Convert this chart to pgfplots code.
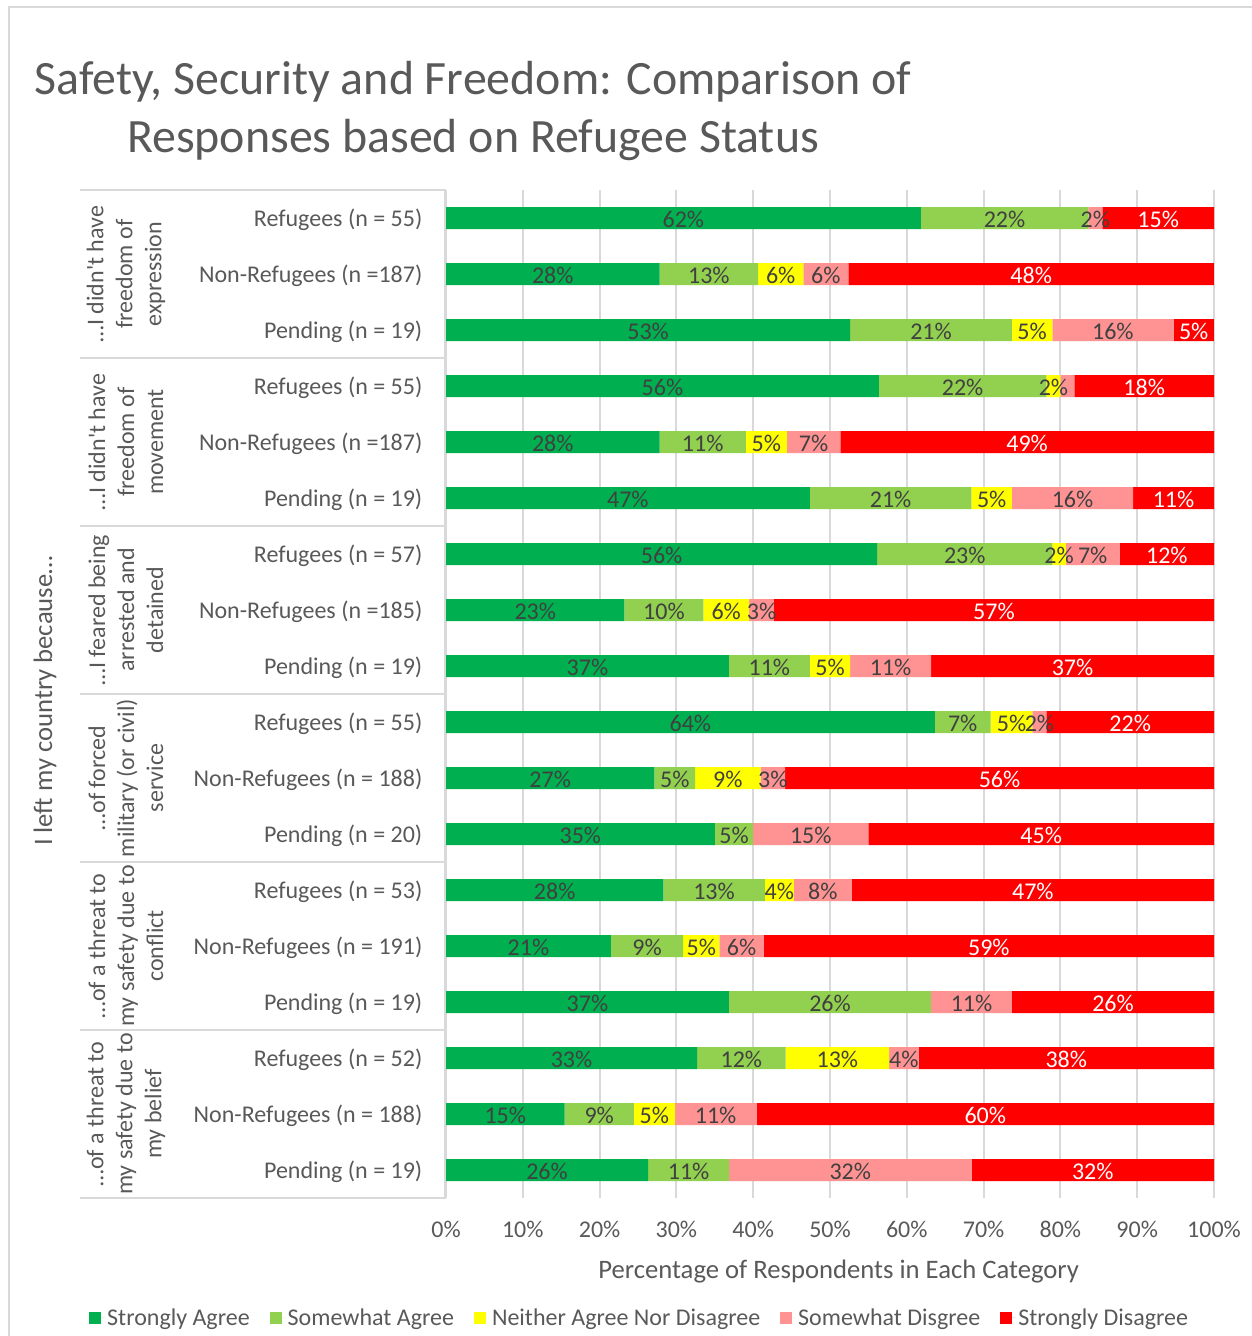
\documentclass[border=0pt]{standalone}
\usepackage{pgfplots}
\pgfplotsset{compat=1.18}
\usepackage{pgfplotstable}
\usepackage{fontspec}
\setmainfont{Carlito}[Ligatures=TeXOff]
\definecolor{cSA}{HTML}{00B050}
\definecolor{cWA}{HTML}{92D050}
\definecolor{cNE}{HTML}{FFFF00}
\definecolor{cSD}{HTML}{FF9393}
\definecolor{cSDD}{HTML}{FF0000}
\definecolor{txt}{HTML}{595959}
\definecolor{lbl}{HTML}{404040}
\definecolor{gridc}{HTML}{D9D9D9}

\pgfplotstableread{
row sa    wa    ne    sd    sdd   lsa lwa lne lsd lsdd
1   61.82 21.82 0     1.82  14.55 62  22  0   2   15
2   27.81 12.83 5.88  5.88  47.59 28  13  6   6   48
3   52.63 21.05 5.26  15.79 5.26  53  21  5   16  5
4   56.36 21.82 1.82  1.82  18.18 56  22  2   0   18
5   27.81 11.23 5.35  6.95  48.66 28  11  5   7   49
6   47.37 21.05 5.26  15.79 10.53 47  21  5   16  11
7   56.14 22.81 1.75  7.02  12.28 56  23  2   7   12
8   23.24 10.27 5.95  3.24  57.30 23  10  6   3   57
9   36.84 10.53 5.26  10.53 36.84 37  11  5   11  37
10  63.64 7.27  5.45  1.82  21.82 64  7   5   2   22
11  27.13 5.32  8.51  3.19  55.85 27  5   9   3   56
12  35.00 5.00  0     15.00 45.00 35  5   0   15  45
13  28.30 13.21 3.77  7.55  47.17 28  13  4   8   47
14  21.47 9.42  4.71  5.76  58.64 21  9   5   6   59
15  36.84 26.32 0     10.53 26.32 37  26  0   11  26
16  32.69 11.54 13.46 3.85  38.46 33  12  13  4   38
17  15.43 9.04  5.32  10.64 59.57 15  9   5   11  60
18  26.32 10.53 0     31.58 31.58 26  11  0   32  32
}\data

\begin{document}
\begin{tikzpicture}[x=0.75pt,y=-0.75pt]
\useasboundingbox (0,0) rectangle (1252,1336);
\fill[white] (0,0) rectangle (1252,1336);
\draw[gridc,line width=1.5pt] (9,1336) -- (9,7) -- (1252,7);
% group separators
\foreach \yy in {190,358,526,694,862,1030,1198}
  \draw[gridc,line width=1.5pt] (80,\yy) -- (446,\yy);
\draw[gridc,line width=1.5pt] (445,190) -- (445,1198);
\coordinate (A) at (446,1198);
\begin{axis}[
  at={(A)}, anchor=south west,
  width=576pt, height=756pt, scale only axis,
  xbar stacked, bar width=16.5pt,
  xmin=0, xmax=100, ymin=0.5, ymax=18.5, y dir=reverse,
  ytick={1,...,18},
  yticklabels={{Refugees (n = 55)},{Non-Refugees (n =187)},{Pending (n = 19)},
    {Refugees (n = 55)},{Non-Refugees (n =187)},{Pending (n = 19)},
    {Refugees (n = 57)},{Non-Refugees (n =185)},{Pending (n = 19)},
    {Refugees (n = 55)},{Non-Refugees (n = 188)},{Pending (n = 20)},
    {Refugees (n = 53)},{Non-Refugees (n = 191)},{Pending (n = 19)},
    {Refugees (n = 52)},{Non-Refugees (n = 188)},{Pending (n = 19)}},
  xtick={0,10,...,100},
  xticklabel={\pgfmathprintnumber{\tick}\%},
  /pgf/number format/assume math mode=true,
  xmajorgrids, ymajorgrids=false,
  major grid style={draw=gridc, line width=1.5pt},
  axis line style={draw=none},
  major tick length=0pt,
  tick label style={font=\fontsize{18}{21.6}\selectfont, text=txt},
  yticklabel style={xshift=-14.25pt, yshift=-1.5pt},
  xticklabel style={yshift=-13.5pt},
  xlabel={Percentage of Respondents in Each Category},
  xlabel style={font=\fontsize{20}{24}\selectfont, text=txt, yshift=-10pt, xshift=6.5pt},
  clip=false,
  point meta=explicit,
  nodes near coords={\pgfmathfloatifflags{\pgfplotspointmeta}{0}{}{\pgfmathprintnumber[fixed,precision=0]{\pgfplotspointmeta}\%}},
  nodes near coords align=center,
  every node near coord/.append style={font=\fontsize{18}{21.6}\selectfont, text=lbl, yshift=-0.75pt},
  legend columns=5,
  legend style={at={(0.2526,-0.119)}, anchor=center, draw=none, fill=none,
    font=\fontsize{18}{21.6}\selectfont, text=txt,
    /tikz/every even column/.append style={column sep=13pt}},
  legend image code/.code={\fill[#1] (0pt,-4.5pt) rectangle (9pt,4.5pt); \path (0pt,0pt) -- (11.5pt,0pt);},
]
\addplot[fill=cSA, draw=none] table[x=sa, y=row, meta=lsa] {\data};
\addplot[fill=cWA, draw=none] table[x=wa, y=row, meta=lwa] {\data};
\addplot[fill=cNE, draw=none] table[x=ne, y=row, meta=lne] {\data};
\addplot[fill=cSD, draw=none] table[x=sd, y=row, meta=lsd] {\data};
\addplot[fill=cSDD, draw=none, every node near coord/.append style={text=white}] table[x=sdd, y=row, meta=lsdd] {\data};
\legend{Strongly Agree, Somewhat Agree, Neither Agree Nor Disagree, Somewhat Disgree, Strongly Disagree}
\end{axis}
% group labels
\begin{scope}[every node/.style={rotate=90, align=center, text=txt, font=\fontsize{18}{21.75}\selectfont}]
\node at (126,274) {…I didn't have\\freedom of\\expression};
\node at (126,442) {…I didn't have\\freedom of\\movement};
\node at (126,610) {…I feared being\\arrested and\\detained};
\node at (126,778) {…of forced\\military (or civil)\\service};
\node at (126,946) {…of a threat to\\my safety due to\\conflict};
\node at (126,1114) {…of a threat to\\my safety due to\\my belief};
\end{scope}
\node[rotate=90, text=txt, font=\fontsize{20}{24}\selectfont] at (45,701) {I left my country because…};
\node[align=center, text=txt, font=\fontsize{35.9}{43.5}\selectfont] at (473,111) {Safety, Security and Freedom: Comparison of\\Responses based on Refugee Status};
\end{tikzpicture}
\end{document}
